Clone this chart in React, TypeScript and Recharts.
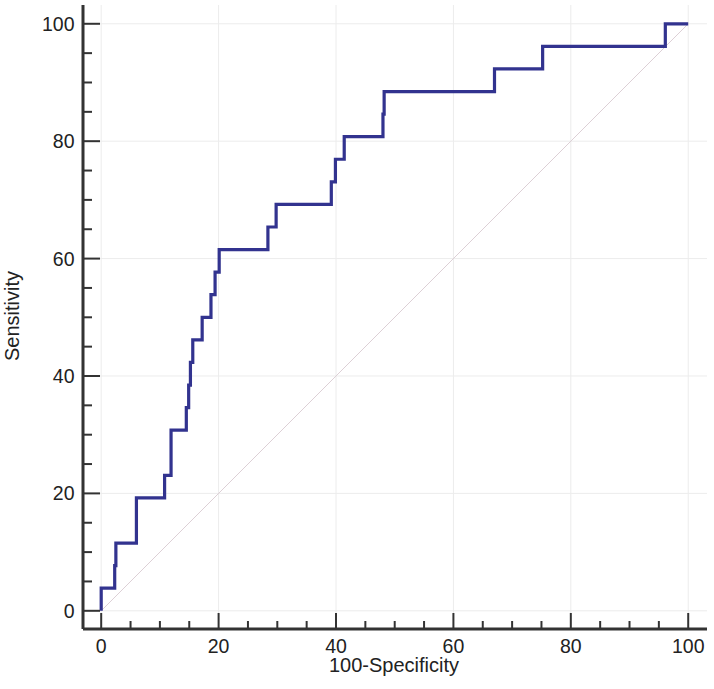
import React from 'react';
import {
  LineChart,
  Line,
  XAxis,
  YAxis,
  ReferenceLine,
  Label,
} from 'recharts';

// ROC curve corners (100-Specificity, Sensitivity)
const fpr = [0, 0, 2.3, 2.5, 6.0, 10.8, 11.9, 14.5, 14.9, 15.2, 15.6, 17.2, 18.7, 19.4, 20.1, 28.4, 29.8, 39.2, 39.9, 41.4, 48.0, 48.2, 67.0, 75.2, 96.1, 100];
const tpr = [0, 3.85, 7.69, 11.54, 19.23, 23.08, 30.77, 34.62, 38.46, 42.31, 46.15, 50.0, 53.85, 57.69, 61.54, 65.38, 69.23, 73.08, 76.92, 80.77, 84.62, 88.46, 92.31, 96.15, 100, 100];

const tickValues = [0, 5, 10, 15, 20, 25, 30, 35, 40, 45, 50, 55, 60, 65, 70, 75, 80, 85, 90, 95, 100];
const gridValues = [0, 20, 40, 60, 80, 100];

const data = fpr.map((x, i) => ({ fpr: x, tpr: tpr[i] }));

const AXIS = '#333333';
const FONT = '"Liberation Sans", Arial, sans-serif';

const XTick = (props: any) => {
  const { x, y, payload } = props;
  const major = payload.value % 20 === 0;
  return (
    <g>
      <line x1={x} x2={x} y1={y} y2={y - (major ? 16 : 8)} stroke={AXIS} strokeWidth={2} />
      {major && (
        <text x={x} y={y + 23.5} textAnchor="middle" fontSize={19.5} fill="#222" fontFamily={FONT}>
          {payload.value}
        </text>
      )}
    </g>
  );
};

const YTick = (props: any) => {
  const { x, y, payload } = props;
  const major = payload.value % 20 === 0;
  return (
    <g>
      <line x1={x} x2={x + (major ? 17 : 9)} y1={y} y2={y} stroke={AXIS} strokeWidth={2} />
      {major && (
        <text x={x - 8.5} y={y + 7} textAnchor="end" fontSize={19.5} fill="#222" fontFamily={FONT}>
          {payload.value}
        </text>
      )}
    </g>
  );
};

const App: React.FC = () => {
  return (
    <div style={{ position: 'absolute', left: 0, top: 0, width: 714, height: 689, background: '#fff' }}>
      <LineChart width={714} height={689} data={data} margin={{ top: 5, right: 7, bottom: 0, left: 0 }}>
        {gridValues.map((v) => (
          <ReferenceLine key={'gx' + v} x={v} stroke="#ececec" strokeWidth={1} />
        ))}
        {gridValues.map((v) => (
          <ReferenceLine key={'gy' + v} y={v} stroke="#ececec" strokeWidth={1} />
        ))}
        <ReferenceLine
          segment={[{ x: 0, y: 0 }, { x: 100, y: 100 }]}
          stroke="#ddd0d6"
          strokeWidth={1}
        />
        <XAxis
          type="number"
          dataKey="fpr"
          domain={[-3.1, 103.2]}
          ticks={tickValues}
          interval={0}
          height={60}
          tickSize={0}
          tickMargin={0}
          tickLine={false}
          axisLine={{ stroke: AXIS, strokeWidth: 3 }}
          tick={(p: any) => <XTick {...p} />}
        >
          <Label
            content={() => (
              <text x={394} y={672} textAnchor="middle" fontSize={20} fill="#222" fontFamily={FONT}>
                100-Specificity
              </text>
            )}
          />
        </XAxis>
        <YAxis
          type="number"
          domain={[-3.1, 103.2]}
          ticks={tickValues}
          interval={0}
          width={83}
          tickSize={0}
          tickMargin={0}
          tickLine={false}
          axisLine={{ stroke: AXIS, strokeWidth: 3 }}
          tick={(p: any) => <YTick {...p} />}
        >
          <Label
            content={() => (
              <text
                x={19}
                y={316}
                textAnchor="middle"
                fontSize={20}
                fill="#222"
                fontFamily={FONT}
                transform="rotate(-90 19 316)"
              >
                Sensitivity
              </text>
            )}
          />
        </YAxis>
        <Line
          type="stepAfter"
          dataKey="tpr"
          stroke="#32338f"
          strokeWidth={3.2}
          dot={false}
          isAnimationActive={false}
        />
      </LineChart>
    </div>
  );
};

export default App;
